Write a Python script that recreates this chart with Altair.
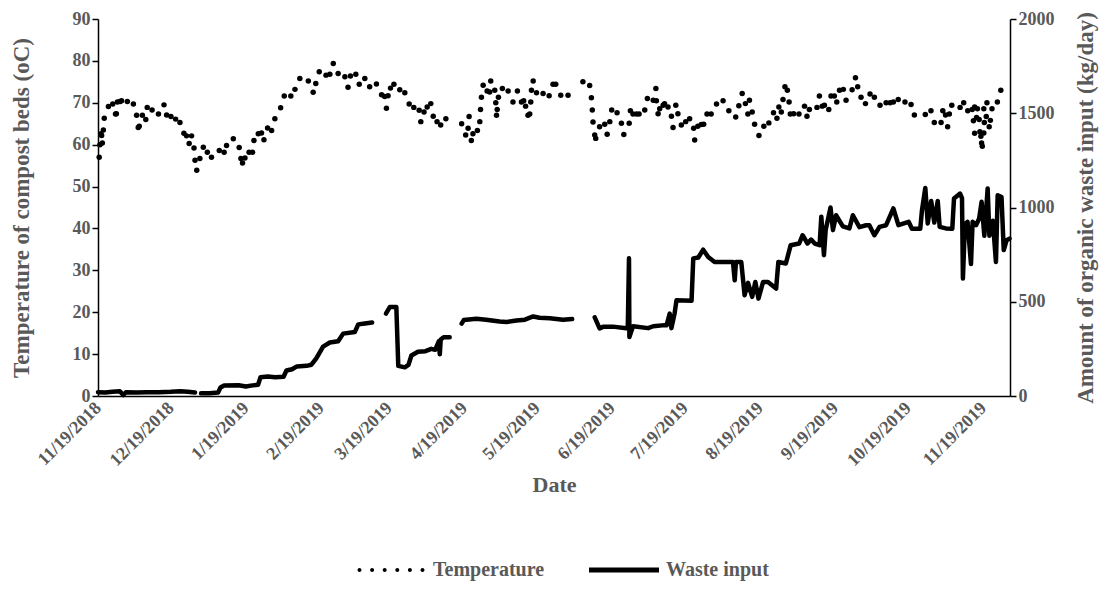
import altair as alt
import pandas as pd

START = "2018-11-19"

# ---- Temperature (day offset from 11/19/2018, degC) ----
temp_day = [0.5, 0.8, 1.2, 1.5, 1.8, 2.2, 2.6, 4.3, 6.1, 7.2, 7.6, 8.0, 9.1, 9.7, 12.1, 14.6, 15.9, 16.6, 17.0,
            18.3, 19.7, 20.3, 22.3, 24.9, 27.2, 28.3, 30.1, 32.0, 33.8, 35.4, 36.5, 37.6, 38.6, 39.6, 40.0, 40.7,
            42.0, 43.4, 45.1, 46.8, 50.0, 52.0, 53.0, 55.8, 58.2, 58.9, 59.6, 60.6, 62.3, 63.7, 64.3, 66.1, 67.4,
            68.4, 69.9, 71.6, 72.9, 75.3, 76.8, 79.5, 81.2, 83.2, 86.7, 88.7, 89.8, 91.2, 94.0, 95.6, 97.0, 99.0,
            101.8, 103.1, 104.1, 106.3, 107.7, 110.0, 112.0, 114.8, 116.9, 118.2, 118.9, 119.6, 120.6, 122.0,
            124.4, 126.5, 128.3, 130.2, 132.4, 133.1, 134.4, 135.7, 137.2, 138.2, 139.8, 141.3, 143.4, 149.9,
            151.6, 152.6, 153.0, 153.9, 154.6, 156.4, 157.4, 157.7, 158.1, 158.8, 160.4, 161.5, 161.9, 163.6,
            164.0, 164.3, 164.6, 165.1, 166.7, 169.1, 171.1, 172.9, 174.6, 175.5, 176.3, 177.3, 178.0, 178.4,
            178.7, 179.4, 180.8, 183.5, 186.0, 187.6, 188.7, 190.8, 193.8, 199.9, 202.7, 203.4, 203.8, 204.1,
            204.8, 205.2, 206.8, 208.9, 209.9, 211.0, 211.8, 214.0, 215.8, 216.8, 219.0, 219.5, 220.6, 222.0,
            223.1, 225.4, 226.5, 228.9, 230.0, 230.2, 230.9, 231.6, 233.0, 233.6, 235.0, 236.4, 237.1, 238.2,
            239.1, 240.5, 242.3, 243.9, 245.6, 246.0, 247.3, 248.7, 249.7, 251.1, 252.8, 255.0, 257.7, 260.1,
            262.9, 264.2, 265.6, 266.9, 267.9, 268.6, 269.7, 270.7, 272.5, 274.5, 276.6, 278.5, 279.9, 280.7,
            281.7, 282.4, 283.2, 284.2, 284.9, 285.4, 286.8, 289.0, 291.3, 292.3, 293.3, 296.4, 297.4, 298.6,
            299.5, 301.3, 302.2, 303.6, 304.6, 305.7, 307.3, 308.4, 310.9, 312.3, 313.2, 314.6, 316.4, 318.3,
            320.1, 322.4, 324.9, 326.6, 327.9, 329.9, 332.7, 335.2, 336.6, 341.1, 343.4, 344.8, 347.6, 348.3,
            349.4, 350.3, 351.0, 352.0, 355.4, 356.9, 358.6, 360.4, 360.9, 361.4, 361.4, 362.2, 362.6, 363.3,
            363.6, 364.0, 364.3, 364.6, 365.2, 365.4, 365.2, 366.2, 366.5, 367.4, 367.9, 368.6, 370.8, 372.2]
temp_val = [57.0, 60.0, 62.6, 62.2, 60.4, 63.5, 66.3, 69.1, 69.7, 67.3, 67.4, 70.2, 70.3, 70.5, 70.3, 69.7, 67.0,
            64.1, 64.4, 67.0, 66.0, 68.9, 68.3, 67.3, 69.5, 67.1, 66.7, 66.1, 65.3, 62.7, 62.1, 60.3, 62.1, 59.2,
            56.3, 53.9, 56.7, 59.4, 58.2, 57.0, 58.6, 58.2, 59.8, 61.4, 59.3, 56.7, 55.6, 56.8, 58.2, 58.2, 61.0,
            62.6, 62.8, 61.2, 64.0, 63.4, 66.2, 68.8, 71.6, 71.6, 73.2, 75.8, 75.2, 72.5, 74.6, 77.4, 76.6, 76.8,
            79.4, 77.0, 76.2, 73.7, 76.4, 76.8, 74.4, 75.8, 73.8, 74.5, 71.9, 71.5, 68.7, 71.7, 73.5, 74.4, 73.1,
            72.4, 69.7, 68.9, 68.2, 65.5, 67.8, 69.0, 69.8, 66.8, 65.5, 64.7, 66.2, 65.0, 62.3, 63.9, 66.7, 61.0,
            62.6, 63.4, 65.5, 68.4, 71.3, 74.2, 72.8, 72.6, 75.2, 73.0, 70.0, 67.0, 68.4, 71.3, 73.4, 72.8, 70.2,
            72.8, 70.2, 70.5, 69.2, 67.0, 67.3, 70.2, 73.0, 75.2, 72.4, 72.2, 71.7, 74.4, 74.4, 71.8, 71.8, 75.0,
            74.1, 71.2, 68.3, 65.4, 62.3, 61.5, 64.3, 64.9, 62.5, 65.5, 68.3, 67.6, 65.1, 62.4, 65.1, 68.1, 67.3,
            67.3, 67.3, 68.3, 71.0, 70.6, 73.4, 70.5, 67.4, 68.6, 69.4, 69.8, 69.0, 66.8, 64.1, 69.4, 67.4, 64.7,
            65.5, 66.2, 63.9, 61.1, 64.4, 64.8, 64.9, 67.3, 67.3, 69.7, 70.5, 68.1, 66.6, 69.3, 72.2, 69.8, 67.3,
            70.6, 67.8, 64.9, 62.2, 64.4, 65.2, 67.6, 66.3, 69.0, 67.8, 70.8, 73.8, 73.0, 70.2, 67.3, 67.4, 67.3,
            69.2, 66.8, 68.4, 68.9, 71.6, 69.2, 69.4, 68.4, 71.6, 71.6, 70.2, 73.0, 73.2, 70.6, 73.1, 76.0, 73.8,
            71.3, 69.8, 72.1, 71.3, 69.4, 70.0, 70.0, 70.2, 70.8, 70.2, 69.6, 67.1, 67.2, 68.1, 65.3, 65.3, 68.1,
            67.1, 64.3, 67.3, 69.4, 68.9, 70.0, 68.1, 68.4, 65.7, 69.0, 62.7, 66.5, 68.6, 66.0, 63.1, 62.0, 60.4,
            59.6, 68.6, 65.3, 62.8, 66.7, 70.0, 64.3, 65.8, 68.6, 70.2, 73.0]

# ---- Waste input (day offset, kg/day, line segment id) ----
waste_day = [0, 3, 6, 9, 10.4, 11.5, 16, 20, 25, 30, 34, 37, 40,
             42.5, 46, 49.5, 50.5, 52, 58, 61, 63, 66, 67, 70, 73, 76.5, 77.7, 80, 82, 86, 88, 90, 92.8, 95.6,
             99, 101.1, 105.9, 107.3, 110, 113,
             118.7, 120.3, 123, 123.8, 126.5, 128, 129.2, 131.9, 135, 137.4, 139, 140.5, 140.9, 141.3, 142.5, 145,
             149.9, 150.8, 156, 160, 165.6, 168.4, 172.5, 176, 179.4, 182, 186.3, 191.7, 195.5,
             204.8, 206.8, 208.2, 212.3, 217.8, 218.4, 218.9, 219.1, 220.6, 226.8, 228.9, 233.6, 234.4, 235.7,
             236.4, 237.7, 238.5, 244.7, 245.4, 247.5, 249.5, 251.6, 254.2, 259.7, 261.8, 262.5, 263, 265.2,
             266.6, 268, 269.7, 271, 272.3, 274.2, 276.2, 279.6, 280.5, 283.6, 285.6, 289.1, 290.5, 292.5, 294,
             295.5, 297.5, 298.2, 299.3, 300, 302, 303, 304.3, 307.1, 309.8, 311.2, 313.9, 316.7, 318, 320.1,
             322.2, 324.9, 327.9, 330, 334.2, 335.6, 339, 339.7, 341.1, 342.1, 343.5, 344.8, 346.2, 347, 349.6,
             352.2, 352.9, 355.4, 356.2, 356.6, 357.4, 358.5, 359.9, 360.6, 362, 363.3, 364.3, 365.4, 366.8,
             367.5, 368.9, 370.2, 370.9, 372.5, 373.4, 374.6, 375.8]
waste_val = [20, 18, 22, 25, 5, 20, 18, 20, 20, 22, 25, 22, 18,
             14, 15, 18, 45, 56, 57, 50, 55, 60, 100, 104, 100, 102, 135, 142, 157, 160, 166, 200, 262, 284,
             290, 331, 340, 380, 385, 390,
             437, 472, 472, 160, 152, 165, 215, 235, 238, 250, 245, 290, 221, 300, 312, 312,
             384, 403, 410, 405, 395, 393, 400, 405, 422, 415, 413, 405, 408,
             417, 359, 367, 368, 359, 360, 731, 313, 370, 360, 370, 376, 375, 437,
             360, 437, 508, 505, 730, 735, 776, 737, 711, 711, 711, 614, 711, 711,
             535, 600, 526, 605, 517, 605, 605, 570, 711, 703, 800, 809, 853, 809, 830,
             809, 800, 951, 747, 880, 1000, 880, 959, 900, 889, 959, 896, 906, 906, 853,
             897, 906, 995, 906, 924, 887, 887, 985, 1104, 915, 1035, 920, 1035, 897, 889,
             887, 1048, 1074, 1050, 623, 910, 924, 700, 924, 906, 942, 1030, 850, 1101,
             850, 930, 711, 1065, 1055, 774, 826, 835]
waste_seg = [1] * 13 + [2] * 27 + [3] * 16 + [4] * 13 + [5] * (len(waste_day) - 69)

legend_items = ["Temperature", "Waste input"]

months = [(2018, 11), (2018, 12), (2019, 1), (2019, 2), (2019, 3), (2019, 4), (2019, 5),
          (2019, 6), (2019, 7), (2019, 8), (2019, 9), (2019, 10), (2019, 11)]

base = pd.Timestamp(START)
temp_df = pd.DataFrame({"date": [base + pd.Timedelta(hours=round(d * 24)) for d in temp_day],
                        "temp": temp_val})
waste_df = pd.DataFrame({"date": [base + pd.Timedelta(hours=round(d * 24)) for d in waste_day],
                         "waste": waste_val, "seg": waste_seg})
legend_df = pd.DataFrame({"series": legend_items})

FONT = "Liberation Serif"
GRAY = "#595959"

x_dom = [alt.DateTime(year=2018, month=11, date=19), alt.DateTime(year=2019, month=11, date=30)]
tick_vals = [alt.DateTime(year=y, month=m, date=19) for (y, m) in months]

x_enc = alt.X("date:T", scale=alt.Scale(domain=x_dom),
              axis=alt.Axis(values=tick_vals, format="%-m/%-d/%Y", labelAngle=-45, labelAlign="right",
                            labelBaseline="middle", labelPadding=9, ticks=False, grid=False,
                            title="Date", titlePadding=5, titleFontSize=22))

temp_layer = alt.Chart(temp_df).mark_circle(size=30, color="black", opacity=1).encode(
    x=x_enc,
    y=alt.Y("temp:Q", scale=alt.Scale(domain=[0, 90]),
            axis=alt.Axis(values=list(range(0, 91, 10)), grid=False, tickSize=6,
                          title="Temperature of compost beds (oC)", titlePadding=39, titleFontSize=23)),
)

waste_layer = alt.Chart(waste_df).mark_line(color="black", strokeWidth=4.5, strokeCap="round",
                                            strokeJoin="round").encode(
    x=alt.X("date:T", scale=alt.Scale(domain=x_dom)),
    y=alt.Y("waste:Q", scale=alt.Scale(domain=[0, 2000]),
            axis=alt.Axis(orient="right", values=list(range(0, 2001, 500)), format="d", grid=False,
                          tickSize=6, title="Amount of organic waste input (kg/day)", titleAngle=-90,
                          titleBaseline="bottom", titlePadding=43, titleFontSize=23)),
    detail="seg:N",
)

# legend glyphs (custom symbol paths, unit = half the symbol box)
dots_path = " ".join(
    f"M{cx - 0.2:.2f},0 a0.2,0.2 0 1,0 0.4,0 a0.2,0.2 0 1,0 -0.4,0"
    for cx in [-3.15, -1.89, -0.63, 0.63, 1.89, 3.15])
bar_path = "M-3.5,-0.25 L3.5,-0.25 L3.5,0.25 L-3.5,0.25 Z"

legend_layer = alt.Chart(legend_df).mark_point(filled=True, opacity=0, color="black").encode(
    shape=alt.Shape("series:N",
                    scale=alt.Scale(domain=legend_items, range=[dots_path, bar_path]),
                    legend=alt.Legend(orient="none", legendX=283, legendY=541, direction="horizontal",
                                      columns=2, title=None, symbolSize=400, symbolFillColor="black",
                                      symbolStrokeColor="black", symbolStrokeWidth=0, symbolOpacity=1,
                                      labelFont=FONT, labelFontWeight="bold", labelFontSize=20,
                                      labelColor=GRAY, columnPadding=44, labelOffset=32)),
)

chart = alt.layer(temp_layer, waste_layer, legend_layer).resolve_scale(
    y="independent", shape="independent"
).properties(
    width=912, height=377,
    padding={"left": 90, "top": 11, "right": 92, "bottom": 186},
    autosize=alt.AutoSizeParams(type="none"),
).configure_view(stroke=None).configure_axis(
    labelFont=FONT, labelFontWeight="bold", labelFontSize=18, labelColor=GRAY,
    titleFont=FONT, titleFontWeight="bold", titleColor=GRAY,
    domainColor="black", domainWidth=1.5, tickColor="black", tickWidth=1.5,
)

chart.save("out.html", embed_options={"renderer": "svg", "actions": False})
